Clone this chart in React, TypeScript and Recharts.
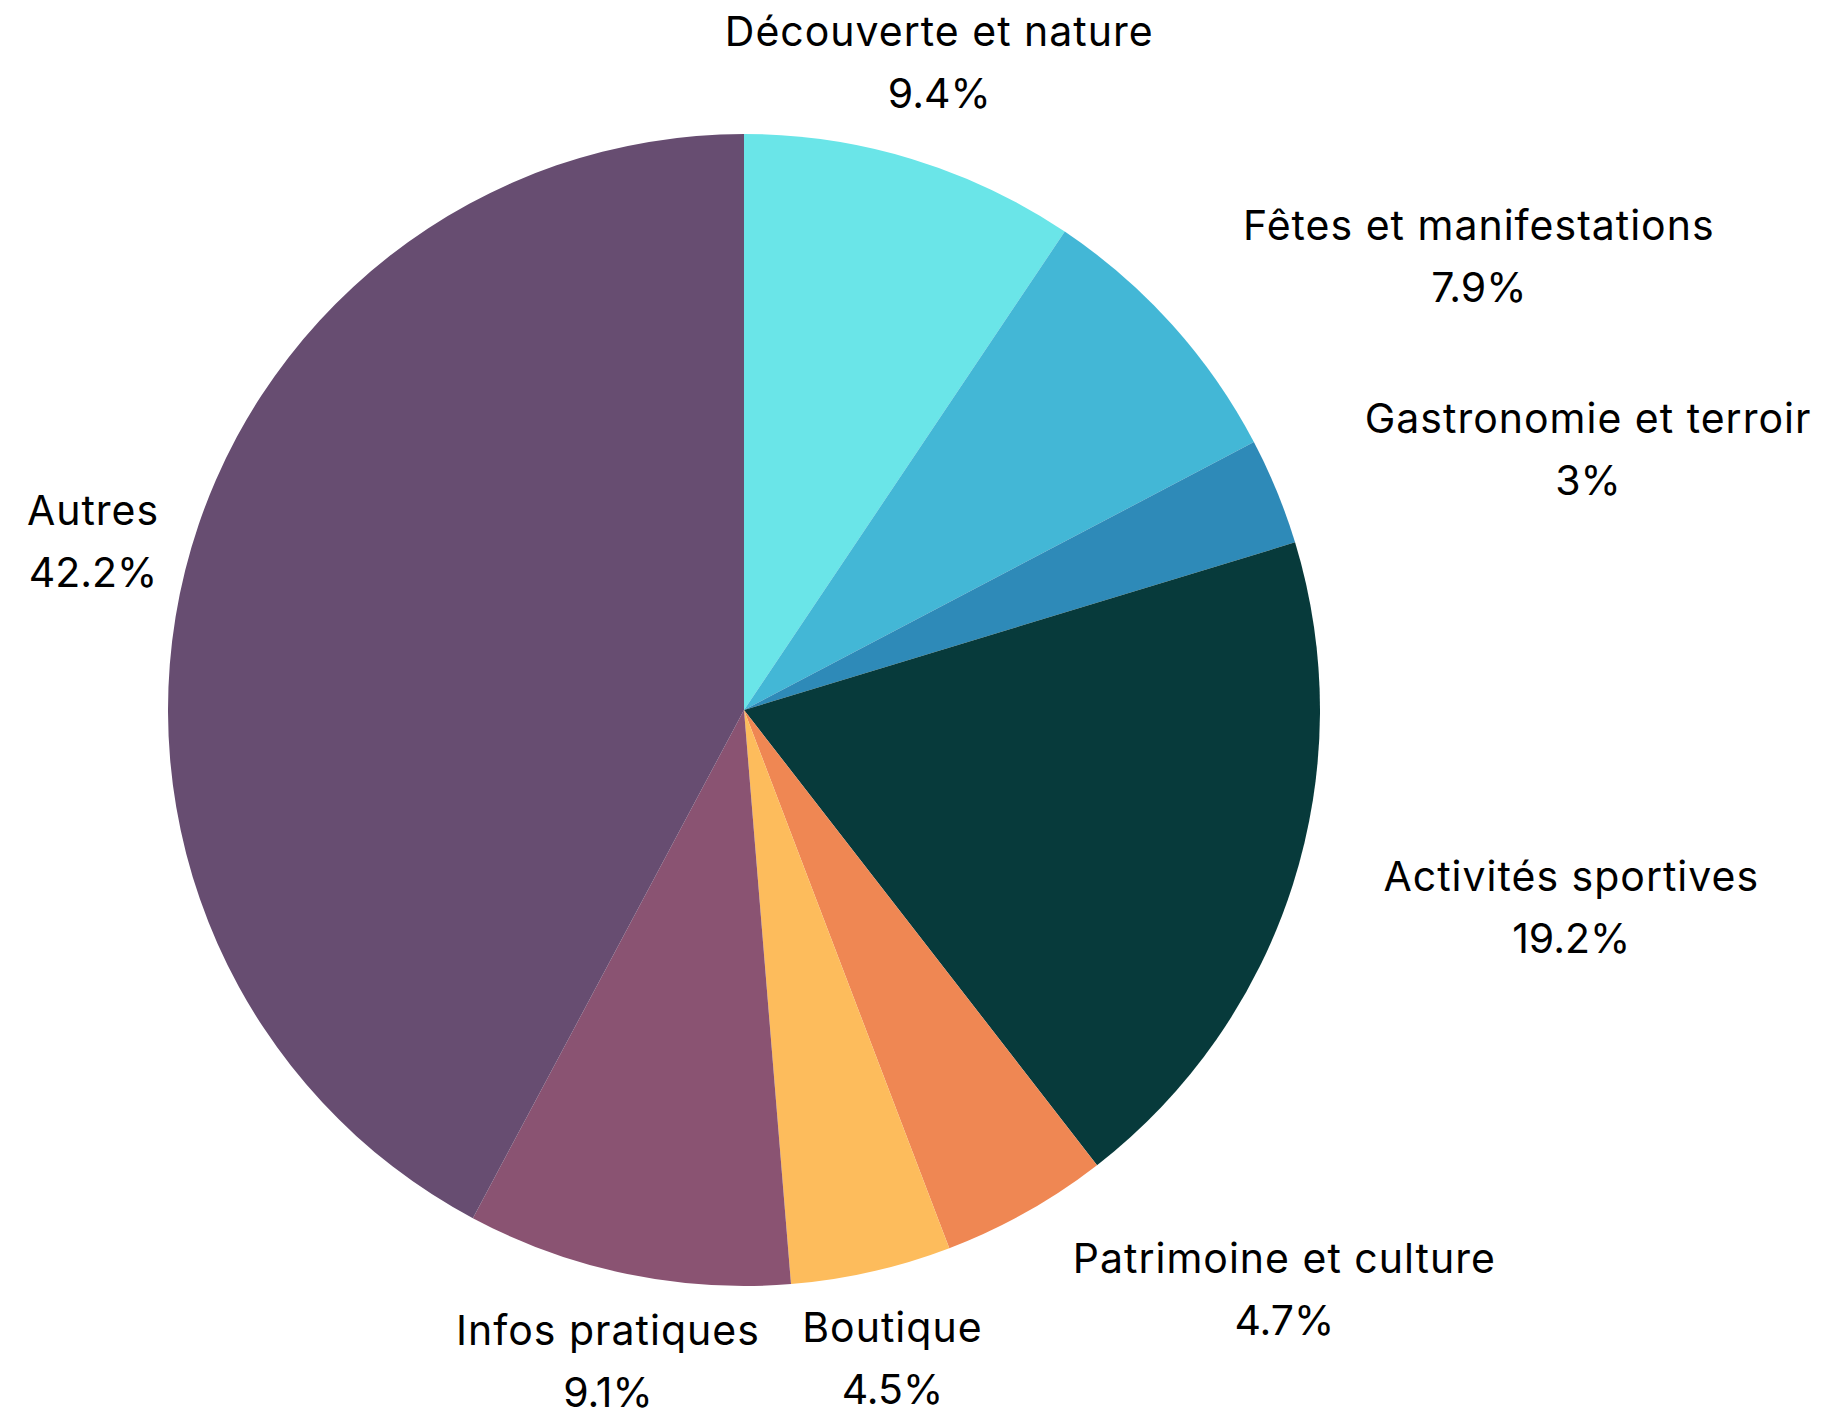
import { PieChart, Pie, Cell } from 'recharts'

const categories = [
  'Découverte et nature',
  'Fêtes et manifestations',
  'Gastronomie et terroir',
  'Activités sportives',
  'Patrimoine et culture',
  'Boutique',
  'Infos pratiques',
  'Autres',
]
const shares = [9.4, 7.9, 3, 19.2, 4.7, 4.5, 9.1, 42.2]
const colors = ['#6ae5e8', '#43b7d6', '#2e8ab8', '#073a3b', '#ef8753', '#fdbc5c', '#8a5372', '#674d71']

const data = categories.map((name, i) => ({ name, value: shares[i] }))

const RAD = Math.PI / 180
const FONT_SIZE = 41
const SPACING = 1
const FONT = 'Inter, sans-serif'

let ctx: CanvasRenderingContext2D | null = null
const measure = (s: string, spacing: number) => {
  if (!ctx) {
    ctx = document.createElement('canvas').getContext('2d')
  }
  if (!ctx) return s.length * FONT_SIZE * 0.55
  ctx.font = `${FONT_SIZE}px ${FONT}`
  return ctx.measureText(s).width + spacing * s.length
}

const renderLabel = (props: any) => {
  const { cx, cy, midAngle, outerRadius, index } = props
  const r = outerRadius + 95
  const cos = Math.cos(-midAngle * RAD)
  const sin = Math.sin(-midAngle * RAD)
  let x = cx + r * cos
  const y = cy + r * sin - 6
  const name = data[index].name
  const pct = `${data[index].value}%`
  // labels on the right hang off their anchor, the rest sit centred on it
  if (cos > 0.4) {
    x += Math.max(measure(name, SPACING), measure(pct, 0)) / 2
  }
  return (
    <text x={x} y={y} textAnchor="middle" fill="#000" fontSize={FONT_SIZE} fontFamily={FONT}>
      <tspan x={x} dy={-16} letterSpacing={SPACING}>{name}</tspan>
      <tspan x={x} dy={62}>{pct}</tspan>
    </text>
  )
}

export default function App() {
  return (
    <div
      style={{
        position: 'absolute',
        left: 0,
        top: 0,
        width: 1825,
        height: 1413,
        overflow: 'hidden',
        background: '#fff',
      }}
    >
      <PieChart width={1825} height={1413} margin={{ top: 0, right: 0, bottom: 0, left: 0 }}>
        <Pie
          data={data}
          dataKey="value"
          nameKey="name"
          cx={744}
          cy={710}
          outerRadius={576}
          startAngle={90}
          endAngle={-270}
          stroke="none"
          label={renderLabel}
          labelLine={false}
          isAnimationActive={false}
        >
          {data.map((d, i) => (
            <Cell key={d.name} fill={colors[i]} />
          ))}
        </Pie>
      </PieChart>
    </div>
  )
}
